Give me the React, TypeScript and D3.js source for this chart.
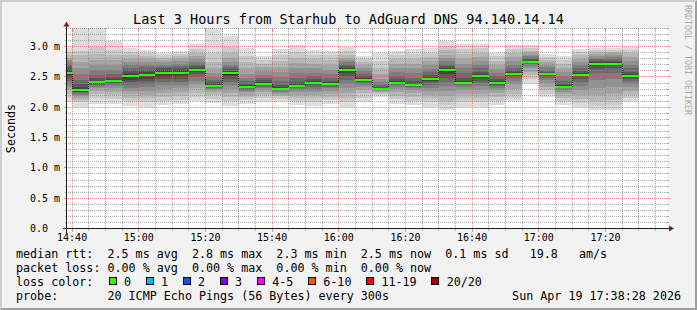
import React, { useEffect } from 'react';
import * as d3 from 'd3';

// ---------- data ----------
const chartTitle = 'Last 3 Hours from Starhub to AdGuard DNS 94.140.14.14';
const yAxisLabel = 'Seconds';
const watermark = 'RRDTOOL / TOBI OETIKER';
const startTime = new Date(2026, 3, 19, 14, 38, 28);
const endTime = new Date(2026, 3, 19, 17, 38, 28);
const firstStepEnd = new Date(2026, 3, 19, 14, 40, 0);
const lastStepEnd = new Date(2026, 3, 19, 17, 30, 0);
const stepSeconds = 300;

const yTickValues = [0, 0.5, 1.0, 1.5, 2.0, 2.5, 3.0];
const yTickLabels = ['0.0', '0.5 m', '1.0 m', '1.5 m', '2.0 m', '2.5 m', '3.0 m'];
const yMax = 3.3; // ms

// median RTT per 5-minute step (ms)
const medianRtt = [
  2.57, 2.28, 2.41, 2.43, 2.51, 2.53, 2.57, 2.56, 2.62, 2.35,
  2.56, 2.33, 2.39, 2.30, 2.35, 2.40, 2.38, 2.61, 2.45, 2.30,
  2.40, 2.37, 2.46, 2.61, 2.40, 2.51, 2.40, 2.55, 2.75, 2.55,
  2.33, 2.54, 2.72, 2.72, 2.51,
];

// 20 sorted ping RTTs per step (ms)
const pingRtt = [
  [2.09, 2.15, 2.22, 2.28, 2.33, 2.38, 2.43, 2.48, 2.52, 2.55, 2.59, 2.62, 2.66, 2.70, 2.74, 2.78, 2.82, 2.86, 2.91, 2.97],
  [2.00, 2.08, 2.12, 2.16, 2.19, 2.21, 2.23, 2.25, 2.26, 2.27, 2.30, 2.33, 2.38, 2.45, 2.55, 2.65, 2.75, 2.86, 2.93, 3.31],
  [2.06, 2.15, 2.22, 2.27, 2.31, 2.34, 2.36, 2.38, 2.39, 2.40, 2.42, 2.44, 2.48, 2.54, 2.62, 2.70, 2.78, 2.88, 2.99, 3.31],
  [2.06, 2.14, 2.20, 2.26, 2.31, 2.35, 2.38, 2.40, 2.41, 2.42, 2.44, 2.46, 2.50, 2.55, 2.62, 2.70, 2.78, 2.86, 2.95, 3.10],
  [2.02, 2.10, 2.16, 2.22, 2.27, 2.32, 2.37, 2.41, 2.45, 2.49, 2.53, 2.57, 2.61, 2.65, 2.70, 2.75, 2.80, 2.86, 2.91, 2.97],
  [2.00, 2.08, 2.15, 2.21, 2.27, 2.33, 2.38, 2.43, 2.47, 2.51, 2.55, 2.58, 2.62, 2.66, 2.70, 2.75, 2.80, 2.85, 2.90, 2.95],
  [2.03, 2.10, 2.17, 2.24, 2.30, 2.36, 2.41, 2.46, 2.50, 2.55, 2.58, 2.61, 2.64, 2.67, 2.70, 2.74, 2.78, 2.82, 2.86, 2.90],
  [2.05, 2.12, 2.19, 2.25, 2.31, 2.37, 2.42, 2.47, 2.51, 2.55, 2.58, 2.61, 2.64, 2.68, 2.72, 2.76, 2.80, 2.84, 2.88, 2.93],
  [2.10, 2.17, 2.24, 2.31, 2.38, 2.44, 2.50, 2.55, 2.58, 2.61, 2.63, 2.65, 2.68, 2.71, 2.75, 2.80, 2.85, 2.90, 2.96, 3.05],
  [2.07, 2.14, 2.20, 2.25, 2.28, 2.30, 2.32, 2.33, 2.34, 2.35, 2.36, 2.38, 2.41, 2.45, 2.50, 2.56, 2.64, 2.75, 2.90, 3.31],
  [2.02, 2.10, 2.17, 2.24, 2.30, 2.36, 2.42, 2.47, 2.51, 2.54, 2.57, 2.60, 2.63, 2.66, 2.70, 2.75, 2.82, 2.90, 3.00, 3.17],
  [2.05, 2.12, 2.17, 2.21, 2.25, 2.27, 2.29, 2.31, 2.32, 2.33, 2.34, 2.36, 2.39, 2.43, 2.48, 2.55, 2.64, 2.74, 2.85, 2.97],
  [2.09, 2.15, 2.20, 2.25, 2.29, 2.32, 2.34, 2.36, 2.37, 2.38, 2.40, 2.42, 2.45, 2.49, 2.54, 2.60, 2.66, 2.72, 2.78, 2.84],
  [2.09, 2.14, 2.18, 2.21, 2.24, 2.26, 2.28, 2.29, 2.30, 2.30, 2.31, 2.33, 2.37, 2.43, 2.50, 2.58, 2.67, 2.77, 2.86, 2.96],
  [2.03, 2.10, 2.16, 2.21, 2.25, 2.28, 2.31, 2.33, 2.34, 2.35, 2.36, 2.38, 2.42, 2.48, 2.56, 2.64, 2.73, 2.82, 2.92, 3.02],
  [2.02, 2.09, 2.15, 2.20, 2.25, 2.29, 2.33, 2.36, 2.38, 2.39, 2.41, 2.43, 2.46, 2.51, 2.57, 2.64, 2.72, 2.80, 2.87, 2.95],
  [2.06, 2.12, 2.17, 2.22, 2.27, 2.31, 2.34, 2.36, 2.37, 2.38, 2.39, 2.41, 2.44, 2.49, 2.55, 2.62, 2.70, 2.78, 2.86, 2.93],
  [2.00, 2.08, 2.16, 2.24, 2.31, 2.38, 2.45, 2.51, 2.56, 2.60, 2.62, 2.65, 2.68, 2.71, 2.74, 2.78, 2.82, 2.87, 2.93, 3.00],
  [2.09, 2.16, 2.23, 2.29, 2.34, 2.37, 2.40, 2.42, 2.43, 2.44, 2.46, 2.48, 2.51, 2.55, 2.60, 2.65, 2.70, 2.75, 2.79, 2.84],
  [2.17, 2.21, 2.24, 2.26, 2.27, 2.28, 2.29, 2.29, 2.30, 2.30, 2.31, 2.32, 2.34, 2.37, 2.41, 2.47, 2.55, 2.65, 2.77, 2.90],
  [2.06, 2.13, 2.19, 2.25, 2.30, 2.34, 2.37, 2.39, 2.40, 2.40, 2.41, 2.43, 2.47, 2.52, 2.58, 2.65, 2.72, 2.80, 2.87, 2.93],
  [2.03, 2.10, 2.17, 2.23, 2.28, 2.32, 2.34, 2.35, 2.36, 2.37, 2.38, 2.40, 2.44, 2.49, 2.56, 2.64, 2.72, 2.80, 2.88, 2.96],
  [2.00, 2.08, 2.15, 2.21, 2.27, 2.32, 2.37, 2.41, 2.44, 2.45, 2.47, 2.50, 2.54, 2.58, 2.63, 2.69, 2.76, 2.83, 2.90, 2.97],
  [1.95, 2.03, 2.11, 2.19, 2.27, 2.35, 2.42, 2.49, 2.55, 2.59, 2.62, 2.65, 2.68, 2.72, 2.76, 2.81, 2.87, 2.94, 3.01, 3.09],
  [2.00, 2.08, 2.15, 2.22, 2.28, 2.33, 2.36, 2.38, 2.39, 2.40, 2.41, 2.44, 2.49, 2.56, 2.64, 2.72, 2.80, 2.88, 2.96, 3.05],
  [2.00, 2.08, 2.15, 2.22, 2.29, 2.35, 2.40, 2.44, 2.48, 2.50, 2.52, 2.55, 2.59, 2.64, 2.70, 2.76, 2.83, 2.90, 2.97, 3.05],
  [2.03, 2.10, 2.17, 2.23, 2.28, 2.32, 2.35, 2.37, 2.39, 2.40, 2.41, 2.43, 2.46, 2.51, 2.57, 2.63, 2.70, 2.77, 2.84, 2.90],
  [2.11, 2.16, 2.22, 2.30, 2.38, 2.44, 2.48, 2.51, 2.53, 2.54, 2.56, 2.58, 2.61, 2.65, 2.70, 2.76, 2.83, 2.90, 2.96, 3.02],
  [2.39, 2.46, 2.53, 2.59, 2.64, 2.68, 2.71, 2.73, 2.74, 2.75, 2.76, 2.77, 2.79, 2.81, 2.84, 2.87, 2.90, 2.93, 2.97, 3.02],
  [2.17, 2.22, 2.28, 2.34, 2.40, 2.45, 2.49, 2.52, 2.54, 2.55, 2.56, 2.57, 2.59, 2.62, 2.66, 2.70, 2.74, 2.78, 2.83, 2.88],
  [2.03, 2.10, 2.16, 2.22, 2.26, 2.29, 2.31, 2.32, 2.33, 2.33, 2.34, 2.36, 2.39, 2.44, 2.51, 2.58, 2.65, 2.72, 2.78, 2.84],
  [2.00, 2.07, 2.14, 2.21, 2.28, 2.35, 2.42, 2.47, 2.51, 2.53, 2.55, 2.57, 2.60, 2.64, 2.69, 2.74, 2.80, 2.86, 2.91, 2.96],
  [1.95, 2.02, 2.10, 2.20, 2.32, 2.45, 2.56, 2.63, 2.68, 2.71, 2.73, 2.75, 2.77, 2.79, 2.82, 2.85, 2.88, 2.91, 2.94, 2.97],
  [1.96, 2.03, 2.12, 2.22, 2.34, 2.47, 2.57, 2.64, 2.69, 2.71, 2.73, 2.75, 2.77, 2.80, 2.83, 2.86, 2.89, 2.92, 2.95, 2.98],
  [2.09, 2.15, 2.21, 2.27, 2.33, 2.38, 2.43, 2.47, 2.49, 2.50, 2.52, 2.55, 2.59, 2.64, 2.70, 2.76, 2.83, 2.89, 2.94, 2.99],
];

const legendStatLines = [
  'median rtt:  2.5 ms avg  2.8 ms max  2.3 ms min  2.5 ms now  0.1 ms sd   19.8   am/s',
  'packet loss: 0.00 % avg  0.00 % max  0.00 % min  0.00 % now',
];
const lossLabelTitle = 'loss color:';
const lossLabels = ['0', '1', '2', '3', '4-5', '6-10', '11-19', '20/20'];
const lossColors = ['#26ff00', '#00b8ff', '#0059ff', '#7e00ff', '#ff00ff', '#ff5500', '#ff0000', '#a10000'];
const probeLine = 'probe:       20 ICMP Echo Pings (56 Bytes) every 300s';
const dateLine = 'Sun Apr 19 17:38:28 2026';

// ---------- layout ----------
const W = 697, H = 310;
const X0 = 67, X1 = 667, YB = 228.5, YT = 28.5;
const MONO = '"DejaVu Sans Mono", monospace';
const CHAR_W = 7.04;

export default function App() {
  useEffect(() => {
    document.body.style.margin = '0';
  }, []);

  const x = d3.scaleTime().domain([startTime, endTime]).range([X0, X1]);
  const y = d3.scaleLinear().domain([0, yMax]).range([YB, YT]);

  const stepEnds = d3.timeMinute.every(5)!.range(firstStepEnd, new Date(+lastStepEnd + 1000));
  const bars = stepEnds.map((end, i) => {
    const start = new Date(Math.max(+startTime, +end - stepSeconds * 1000));
    return { x0: x(start), x1: x(end), median: medianRtt[i], pings: pingRtt[i] };
  });

  const nPings = 20;
  const half = nPings / 2;
  const layers: { k: number; color: string }[] = [];
  for (let k = 1; k <= half; k++) {
    const c = Math.floor((190 / half) * (half - k)) + 50;
    const h = c.toString(16).padStart(2, '0');
    layers.push({ k, color: `#${h}${h}${h}` });
  }

  // grid
  const minorY = d3.range(1, 34).filter((i) => i % 5 !== 0).map((i) => i / 10);
  const majorY = d3.range(5, 34, 5).map((i) => i / 10);
  const minorX = d3.timeMinute.every(5)!.range(startTime, endTime).filter((d) => d.getMinutes() % 20 !== 0);
  const majorX = d3.timeMinute.every(20)!.range(startTime, endTime);
  const fmt = d3.timeFormat('%H:%M');

  const gridCol = 'rgba(143,143,143,0.75)';
  const mgridCol = 'rgba(222,79,79,0.6)';
  const px = (v: number) => Math.round(v) + 0.5;

  const medianLine = d3
    .line<[number, number]>()
    .x((d) => d[0])
    .y((d) => d[1])
    .curve(d3.curveStepAfter)(
      [...bars.map((b) => [b.x0, Math.round(y(b.median)) + 0.5] as [number, number]),
       [bars[bars.length - 1].x1, Math.round(y(bars[bars.length - 1].median)) + 0.5]]
    );

  // loss legend positions
  let cursor = 108.7;
  const lossItems = lossLabels.map((lab, i) => {
    const bx = cursor;
    const tx = bx + 15.3;
    cursor = tx + lab.length * CHAR_W + 14.7;
    return { lab, color: lossColors[i], bx, tx };
  });

  return (
    <svg width={W} height={H} viewBox={`0 0 ${W} ${H}`} style={{ display: 'block', position: 'absolute', left: 0, top: 0 }}>
      <defs>
        <clipPath id="canvasClip">
          <rect x={X0} y={YT} width={X1 - X0 + 1} height={YB - YT + 1} />
        </clipPath>
      </defs>
      {/* background and 3D border */}
      <rect x={0} y={0} width={W} height={H} fill="#f2f2f2" />
      <polygon points={`0,${H} 2,${H - 2} 2,2 ${W - 2},2 ${W},0 0,0`} fill="#cecece" />
      <polygon points={`2,${H - 2} ${W - 2},${H - 2} ${W - 2},2 ${W},0 ${W},${H} 0,${H}`} fill="#9e9e9e" />
      {/* canvas */}
      <rect x={X0} y={YT} width={X1 - X0 + 1} height={YB - YT + 0.5} fill="#ffffff" />

      {/* smoke */}
      <g clipPath="url(#canvasClip)" shapeRendering="crispEdges">
        {bars.map((b, i) =>
          layers.map(({ k, color }) => {
            const lo = b.pings[k - 1];
            const hi = b.pings[nPings - k];
            const yTop = Math.round(y(hi));
            const yBot = Math.round(y(lo));
            return (
              <rect
                key={`s${i}-${k}`}
                x={Math.round(b.x0)}
                y={yTop}
                width={Math.round(b.x1) - Math.round(b.x0)}
                height={Math.max(0, yBot - yTop)}
                fill={color}
              />
            );
          })
        )}
      </g>

      {/* grid */}
      <g shapeRendering="crispEdges">
        {minorY.map((v) => (
          <g key={`my${v}`}>
            <line x1={X0 - 2} x2={X0} y1={px(y(v) - 0.5)} y2={px(y(v) - 0.5)} stroke={gridCol} />
            <line x1={X1} x2={X1 + 2} y1={px(y(v) - 0.5)} y2={px(y(v) - 0.5)} stroke={gridCol} />
            <line x1={X0 + 1} x2={X1} y1={px(y(v) - 0.5)} y2={px(y(v) - 0.5)} stroke={gridCol} strokeDasharray="1 1" />
          </g>
        ))}
        {minorX.map((d) => (
          <g key={`mx${+d}`}>
            <line x1={px(x(d) - 0.5)} x2={px(x(d) - 0.5)} y1={YB} y2={YB + 2} stroke={gridCol} />
            <line x1={px(x(d) - 0.5)} x2={px(x(d) - 0.5)} y1={YT - 1} y2={YT + 1} stroke={gridCol} />
            <line x1={px(x(d) - 0.5)} x2={px(x(d) - 0.5)} y1={YT} y2={YB - 1} stroke={gridCol} strokeDasharray="1 1" />
          </g>
        ))}
        {majorY.map((v) => (
          <g key={`My${v}`}>
            <line x1={X0 - 3} x2={X0} y1={px(y(v) - 0.5)} y2={px(y(v) - 0.5)} stroke={mgridCol} />
            <line x1={X1} x2={X1 + 3} y1={px(y(v) - 0.5)} y2={px(y(v) - 0.5)} stroke={mgridCol} />
            <line x1={X0 + 1} x2={X1} y1={px(y(v) - 0.5)} y2={px(y(v) - 0.5)} stroke={mgridCol} strokeDasharray="1 1" />
          </g>
        ))}
        {majorX.map((d) => (
          <g key={`Mx${+d}`}>
            <line x1={px(x(d) - 0.5)} x2={px(x(d) - 0.5)} y1={YB} y2={YB + 3} stroke={mgridCol} />
            <line x1={px(x(d) - 0.5)} x2={px(x(d) - 0.5)} y1={YT - 1} y2={YT + 2} stroke={mgridCol} />
            <line x1={px(x(d) - 0.5)} x2={px(x(d) - 0.5)} y1={YT} y2={YB - 1} stroke={mgridCol} strokeDasharray="1 1" />
          </g>
        ))}
      </g>

      {/* median line and loss-coloured median bands */}
      <path d={medianLine || ''} fill="none" stroke="#202020" strokeWidth={1} strokeDasharray="1 1" shapeRendering="crispEdges" />
      <g shapeRendering="crispEdges">
        {bars.map((b, i) => (
          <rect
            key={`m${i}`}
            x={Math.round(b.x0)}
            y={Math.round(y(b.median)) - 1}
            width={Math.round(b.x1) - Math.round(b.x0)}
            height={2}
            fill={lossColors[0]}
          />
        ))}
      </g>

      {/* axes */}
      <g shapeRendering="crispEdges">
        <line x1={X0 - 4} x2={X1 + 4} y1={YB} y2={YB} stroke="#1f1f1f" strokeWidth={1} />
        <line x1={X0 - 0.5} x2={X0 - 0.5} y1={YB + 4} y2={YT - 4} stroke="#1f1f1f" strokeWidth={1} />
      </g>
      <polygon points={`${X1 + 2},${YB - 3} ${X1 + 2},${YB + 3} ${X1 + 7},${YB}`} fill="#801f1f" />
      <polygon points={`${X0 - 3.5},${YT - 2} ${X0 + 2.5},${YT - 2} ${X0 - 0.5},${YT - 7}`} fill="#801f1f" />

      {/* y tick labels */}
      <g fontFamily={MONO} fontSize={10} fill="#000">
        {yTickValues.map((v, i) => (
          <text key={`yl${i}`} x={30} y={y(v) + 3.5} style={{ whiteSpace: 'pre' }}>
            {yTickLabels[i]}
          </text>
        ))}
        {majorX.map((d) => (
          <text key={`xl${+d}`} x={x(d)} y={241.3} textAnchor="middle">
            {fmt(d)}
          </text>
        ))}
      </g>

      {/* titles */}
      <text x={W / 2} y={24} textAnchor="middle" fontFamily={MONO} fontSize={13.5} fill="#000">
        {chartTitle}
      </text>
      <text
        transform={`translate(14.8, ${(YB + YT) / 2}) rotate(-90)`}
        textAnchor="middle"
        fontFamily={MONO}
        fontSize={11.7}
        fill="#000"
      >
        {yAxisLabel}
      </text>
      <text transform="translate(684.5, 5) rotate(90)" fontFamily={MONO} fontSize={8.3} fill="#acacac">
        {watermark}
      </text>

      {/* legend */}
      <g fontFamily={MONO} fontSize={11.7} fill="#000">
        {legendStatLines.map((line, i) => (
          <text key={`lg${i}`} x={16} y={258.3 + i * 13.8} style={{ whiteSpace: 'pre' }}>
            {line}
          </text>
        ))}
        <text x={16} y={285.8} style={{ whiteSpace: 'pre' }}>
          {lossLabelTitle}
        </text>
        {lossItems.map((it) => (
          <g key={`li${it.lab}`}>
            <rect x={Math.round(it.bx) + 0.5} y={277.5} width={7} height={7} fill={it.color} stroke="#000" strokeWidth={1} shapeRendering="crispEdges" />
            <text x={it.tx} y={285.8}>
              {it.lab}
            </text>
          </g>
        ))}
        <text x={16} y={299.7} style={{ whiteSpace: 'pre' }}>
          {probeLine}
        </text>
        <text x={681} y={299.7} textAnchor="end" style={{ whiteSpace: 'pre' }}>
          {dateLine}
        </text>
      </g>
    </svg>
  );
}
